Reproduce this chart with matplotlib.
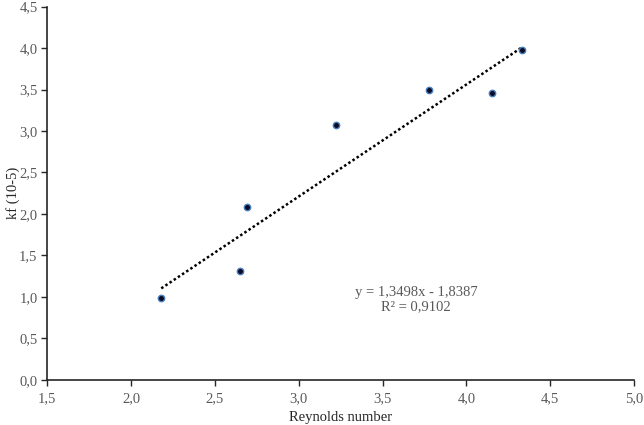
import numpy as np
import matplotlib
matplotlib.use('Agg')
import matplotlib.pyplot as plt

# values
reynolds = [2.18, 2.65, 2.69, 3.22, 3.78, 4.15, 4.33]
kf = [0.99, 1.31, 2.08, 3.07, 3.49, 3.46, 3.98]

# linear trendline as printed on the chart
slope = 1.3498
intercept = -1.8387
r_squared = 0.9102

x_ticks = [1.5, 2.0, 2.5, 3.0, 3.5, 4.0, 4.5, 5.0]
y_ticks = [0.0, 0.5, 1.0, 1.5, 2.0, 2.5, 3.0, 3.5, 4.0, 4.5]

plt.rcParams['font.family'] = ['Liberation Serif', 'DejaVu Serif']

fig = plt.figure(figsize=(6.44, 4.25), dpi=100)
ax = fig.add_axes([0.0734, 0.1059, 0.9111, 0.8788])

grey = '#595959'
fs = 10.5

# trendline over the data range
xs = np.array([min(reynolds), max(reynolds)])
ax.plot(xs, slope * xs + intercept, color='black', lw=1.8,
        linestyle=(0, (1, 1)), zorder=2)

ax.plot(reynolds, kf, linestyle='none', marker='o', markersize=4.6,
        markerfacecolor='#0b0b2a', markeredgecolor='#4a7ebb',
        markeredgewidth=1.0, zorder=3)

ax.set_xlim(1.5, 5.0)
ax.set_ylim(0.0, 4.5)
ax.set_xticks(x_ticks)
ax.set_yticks(y_ticks)
ax.set_xticklabels([('%.1f' % v).replace('.', ',') for v in x_ticks])
ax.set_yticklabels([('%.1f' % v).replace('.', ',') for v in y_ticks])

for side in ('top', 'right'):
    ax.spines[side].set_visible(False)
for side in ('left', 'bottom'):
    ax.spines[side].set_color('#262626')
    ax.spines[side].set_linewidth(1.2)

ax.tick_params(axis='both', direction='out', length=4, width=1.0,
               color='#262626', labelsize=fs, labelcolor=grey, pad=3)
ax.tick_params(axis='x', pad=5)

ax.set_xlabel('Reynolds number', fontsize=fs, color='#262626')
ax.set_ylabel('kf (10-5)', fontsize=fs, color='#262626')
ax.xaxis.set_label_coords(0.5, -0.082)
ax.yaxis.set_label_coords(-0.046, 0.5)

ax.text(3.70, 1.06, 'y = 1,3498x - 1,8387', ha='center', va='center',
        fontsize=fs, color=grey)
ax.text(3.70, 0.88, 'R² = %s' % ('%.4f' % r_squared).replace('.', ','),
        ha='center', va='center', fontsize=fs, color=grey)

fig.savefig('out.png', dpi=100)
